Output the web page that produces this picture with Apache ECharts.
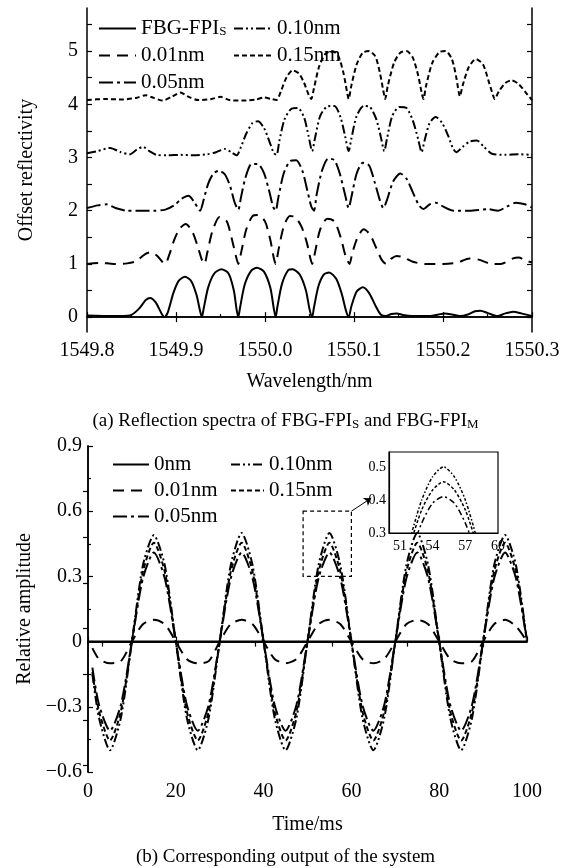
<!DOCTYPE html>
<html>
<head>
<meta charset="utf-8">
<script src="https://cdn.jsdelivr.net/npm/echarts@6/dist/echarts.min.js"></script>
<style>
  html, body { margin: 0; padding: 0; background: #fff; }
  #chart { width: 571px; height: 868px; }
</style>
</head>
<body>
<div id="chart"></div>
<script>
// ---- (a) reflection spectra, each curve already offset by 1 on the y axis ----
const specS = [[1549.800,0.03],[1549.830,0.02],[1549.848,0.03],[1549.858,0.15],[1549.866,0.32],[1549.871,0.36],[1549.877,0.28],[1549.884,0.06],[1549.887,0.0],[1549.891,0.1],[1549.897,0.45],[1549.903,0.68],[1549.910,0.76],[1549.917,0.68],[1549.923,0.42],[1549.927,0.12],[1549.929,0.0],[1549.931,0.15],[1549.936,0.55],[1549.943,0.82],[1549.951,0.9],[1549.959,0.82],[1549.965,0.5],[1549.968,0.15],[1549.970,0.0],[1549.972,0.18],[1549.977,0.6],[1549.984,0.86],[1549.991,0.93],[1549.999,0.85],[1550.006,0.55],[1550.010,0.15],[1550.012,0.0],[1550.014,0.2],[1550.019,0.62],[1550.026,0.88],[1550.031,0.9],[1550.039,0.8],[1550.046,0.5],[1550.050,0.15],[1550.053,0.0],[1550.055,0.18],[1550.060,0.58],[1550.066,0.8],[1550.072,0.84],[1550.080,0.72],[1550.086,0.45],[1550.091,0.12],[1550.094,0.0],[1550.097,0.2],[1550.103,0.48],[1550.110,0.56],[1550.117,0.45],[1550.124,0.22],[1550.130,0.05],[1550.136,0.02],[1550.142,0.06],[1550.148,0.07],[1550.155,0.04],[1550.165,0.02],[1550.185,0.02],[1550.195,0.05],[1550.202,0.07],[1550.210,0.05],[1550.219,0.02],[1550.228,0.05],[1550.236,0.11],[1550.242,0.12],[1550.250,0.08],[1550.261,0.02],[1550.270,0.07],[1550.279,0.1],[1550.288,0.07],[1550.300,0.02]];
const spec001 = [[1549.800,1.0],[1549.815,1.02],[1549.830,1.0],[1549.845,1.01],[1549.855,1.05],[1549.865,1.18],[1549.872,1.22],[1549.879,1.15],[1549.885,1.03],[1549.888,1.0],[1549.892,1.15],[1549.898,1.45],[1549.904,1.66],[1549.911,1.75],[1549.918,1.62],[1549.924,1.35],[1549.929,1.08],[1549.932,1.0],[1549.935,1.2],[1549.941,1.62],[1549.949,1.88],[1549.957,1.8],[1549.963,1.45],[1549.968,1.1],[1549.970,1.0],[1549.973,1.2],[1549.979,1.65],[1549.986,1.9],[1549.992,1.92],[1550.000,1.8],[1550.006,1.45],[1550.010,1.1],[1550.012,1.0],[1550.015,1.25],[1550.021,1.7],[1550.028,1.9],[1550.034,1.88],[1550.041,1.7],[1550.047,1.4],[1550.051,1.1],[1550.053,1.0],[1550.056,1.2],[1550.062,1.65],[1550.070,1.85],[1550.078,1.8],[1550.085,1.5],[1550.091,1.12],[1550.095,1.0],[1550.098,1.2],[1550.104,1.5],[1550.111,1.65],[1550.118,1.55],[1550.125,1.3],[1550.131,1.08],[1550.136,1.0],[1550.142,1.1],[1550.148,1.15],[1550.156,1.12],[1550.166,1.04],[1550.180,1.0],[1550.200,1.0],[1550.215,1.02],[1550.230,1.1],[1550.240,1.08],[1550.255,1.0],[1550.265,1.0],[1550.278,1.1],[1550.285,1.12],[1550.293,1.06],[1550.300,1.03]];
const spec005 = [[1549.800,2.05],[1549.812,2.1],[1549.822,2.12],[1549.832,2.05],[1549.845,2.0],[1549.860,2.0],[1549.875,2.0],[1549.888,2.02],[1549.898,2.1],[1549.906,2.22],[1549.914,2.28],[1549.921,2.15],[1549.927,2.0],[1549.931,2.2],[1549.936,2.5],[1549.942,2.7],[1549.948,2.75],[1549.955,2.68],[1549.961,2.45],[1549.966,2.15],[1549.970,2.02],[1549.973,2.25],[1549.978,2.62],[1549.985,2.88],[1549.992,2.88],[1549.999,2.7],[1550.005,2.35],[1550.009,2.08],[1550.012,2.0],[1550.015,2.25],[1550.021,2.7],[1550.028,2.93],[1550.035,2.95],[1550.042,2.75],[1550.048,2.35],[1550.052,2.08],[1550.055,2.0],[1550.058,2.3],[1550.064,2.75],[1550.071,2.98],[1550.078,2.95],[1550.084,2.7],[1550.090,2.3],[1550.094,2.05],[1550.097,2.25],[1550.103,2.7],[1550.110,2.9],[1550.117,2.85],[1550.123,2.55],[1550.129,2.2],[1550.133,2.05],[1550.137,2.2],[1550.144,2.55],[1550.152,2.7],[1550.159,2.6],[1550.166,2.35],[1550.173,2.1],[1550.178,2.03],[1550.185,2.12],[1550.192,2.15],[1550.200,2.08],[1550.212,2.0],[1550.230,2.0],[1550.250,2.03],[1550.262,2.0],[1550.272,2.08],[1550.282,2.15],[1550.292,2.12],[1550.300,2.06]];
const spec010 = [[1549.800,3.08],[1549.812,3.12],[1549.826,3.18],[1549.838,3.1],[1549.848,3.06],[1549.856,3.15],[1549.863,3.2],[1549.870,3.12],[1549.878,3.05],[1549.890,3.04],[1549.905,3.05],[1549.920,3.04],[1549.935,3.06],[1549.945,3.1],[1549.955,3.16],[1549.962,3.1],[1549.968,3.04],[1549.973,3.2],[1549.979,3.45],[1549.986,3.65],[1549.992,3.68],[1549.999,3.55],[1550.005,3.3],[1550.010,3.08],[1550.013,3.05],[1550.016,3.3],[1550.022,3.72],[1550.030,3.92],[1550.037,3.93],[1550.044,3.75],[1550.049,3.4],[1550.053,3.12],[1550.056,3.35],[1550.062,3.78],[1550.070,3.96],[1550.078,3.97],[1550.085,3.75],[1550.090,3.4],[1550.094,3.12],[1550.097,3.35],[1550.103,3.78],[1550.111,3.97],[1550.118,3.95],[1550.125,3.72],[1550.130,3.4],[1550.134,3.12],[1550.137,3.35],[1550.143,3.78],[1550.151,3.95],[1550.159,3.93],[1550.166,3.7],[1550.172,3.35],[1550.176,3.1],[1550.179,3.3],[1550.185,3.65],[1550.192,3.76],[1550.199,3.65],[1550.206,3.4],[1550.211,3.18],[1550.215,3.1],[1550.222,3.2],[1550.230,3.3],[1550.238,3.32],[1550.246,3.2],[1550.255,3.07],[1550.270,3.05],[1550.285,3.06],[1550.300,3.05]];
const spec015 = [[1549.800,4.08],[1549.820,4.1],[1549.840,4.09],[1549.855,4.12],[1549.866,4.17],[1549.875,4.12],[1549.885,4.07],[1549.896,4.15],[1549.905,4.22],[1549.913,4.15],[1549.925,4.08],[1549.940,4.1],[1549.950,4.14],[1549.960,4.08],[1549.975,4.07],[1549.990,4.09],[1549.999,4.13],[1550.007,4.1],[1550.013,4.08],[1550.018,4.25],[1550.024,4.5],[1550.031,4.64],[1550.038,4.58],[1550.044,4.4],[1550.049,4.18],[1550.052,4.1],[1550.055,4.3],[1550.061,4.72],[1550.068,4.95],[1550.075,5.0],[1550.082,4.92],[1550.088,4.6],[1550.092,4.25],[1550.094,4.1],[1550.097,4.35],[1550.103,4.75],[1550.110,4.97],[1550.117,5.0],[1550.124,4.9],[1550.129,4.6],[1550.133,4.25],[1550.135,4.1],[1550.138,4.35],[1550.145,4.78],[1550.152,4.97],[1550.159,5.0],[1550.166,4.88],[1550.172,4.55],[1550.176,4.22],[1550.178,4.1],[1550.181,4.35],[1550.188,4.78],[1550.196,4.98],[1550.203,5.0],[1550.210,4.85],[1550.215,4.5],[1550.219,4.15],[1550.222,4.35],[1550.229,4.7],[1550.237,4.85],[1550.245,4.75],[1550.251,4.45],[1550.256,4.18],[1550.258,4.1],[1550.263,4.25],[1550.270,4.4],[1550.277,4.45],[1550.285,4.38],[1550.293,4.22],[1550.300,4.08]];

const specNames = ['FBG-FPI_S', '0.01nm', '0.05nm', '0.10nm', '0.15nm'];
const specLabels = [0, 1, 2, 3, 4, 5];
const specYTicks = [0, 0.5, 1, 1.5, 2, 2.5, 3, 3.5, 4, 4.5, 5, 5.5];
const specTopTicks = [1549.9, 1550.0, 1550.1, 1550.2];

// ---- (b) system output ----
const timeB = [1, 2.5, 5, 7.5, 10, 12.5, 15, 17.5, 20, 22.5, 25, 27.5, 30, 32.5, 35, 37.5, 40, 42.5, 45, 47.5, 50, 52.5, 55, 57.5, 60, 62.5, 65, 67.5, 70, 72.5, 75, 77.5, 80, 82.5, 85, 87.5, 90, 92.5, 95, 97.5, 100];
const out001 = [-0.03, -0.08, -0.1, -0.09, 0, 0.08, 0.1, 0.08, 0, -0.08, -0.1, -0.09, 0, 0.08, 0.1, 0.08, 0, -0.08, -0.1, -0.08, 0, 0.08, 0.1, 0.08, 0, -0.08, -0.1, -0.08, 0, 0.08, 0.1, 0.08, 0, -0.08, -0.1, -0.09, 0, 0.08, 0.1, 0.07, 0];
const out005 = [-0.12, -0.29, -0.41, -0.29, 0, 0.29, 0.41, 0.29, 0, -0.29, -0.41, -0.29, 0, 0.29, 0.41, 0.29, 0, -0.29, -0.41, -0.29, 0, 0.29, 0.41, 0.29, 0, -0.29, -0.41, -0.29, 0, 0.29, 0.41, 0.29, 0, -0.29, -0.41, -0.29, 0, 0.29, 0.41, 0.29, 0];
const out010 = [-0.15, -0.35, -0.5, -0.35, 0, 0.35, 0.49, 0.35, 0, -0.35, -0.5, -0.35, 0, 0.35, 0.5, 0.35, 0, -0.35, -0.5, -0.35, 0, 0.35, 0.5, 0.35, 0, -0.35, -0.5, -0.35, 0, 0.35, 0.5, 0.35, 0, -0.35, -0.5, -0.35, 0, 0.35, 0.49, 0.35, 0];
const out015 = [-0.14, -0.32, -0.455, -0.32, 0, 0.32, 0.455, 0.32, 0, -0.32, -0.455, -0.32, 0, 0.32, 0.455, 0.32, 0, -0.32, -0.455, -0.32, 0, 0.32, 0.455, 0.32, 0, -0.32, -0.455, -0.32, 0, 0.32, 0.455, 0.32, 0, -0.32, -0.455, -0.32, 0, 0.32, 0.455, 0.32, 0];
const timeFlat = [0, 100];
const out0 = [0, 0];
const outNames = ['0nm', '0.01nm', '0.05nm', '0.10nm', '0.15nm'];
const outRightTicks = [-0.57, -0.36, -0.15, 0.06, 0.27, 0.48, 0.69];
const outTopTicks = [3.2, 20.5, 38, 55.6, 72.7, 90];
const zoomBoxT = [49, 60];
const zoomBoxV = [0.3, 0.6];
const arrowEnd = [64.5, 0.66];

// ---- (b) inset ----
const insetT = [51, 52, 53, 54, 55, 56, 57, 58, 59];
const inset005 = [0.13, 0.24, 0.33, 0.39, 0.41, 0.39, 0.33, 0.24, 0.13];
const inset010 = [0.16, 0.29, 0.4, 0.47, 0.5, 0.47, 0.4, 0.29, 0.16];
const inset015 = [0.14, 0.27, 0.37, 0.43, 0.455, 0.43, 0.37, 0.27, 0.14];
const insetXLabels = [51, 54, 57, 60];
const insetYLabels = [0.3, 0.4, 0.5];

const FONT = '"Liberation Serif", "Times New Roman", serif';
const dashes = {
  solid: 'solid',
  d001: [11, 7],
  d005: [14, 4, 3, 4],
  d010: [9, 3, 2, 3, 2, 3],
  d015: [5, 3]
};
const styles = [dashes.solid, dashes.d001, dashes.d005, dashes.d010, dashes.d015];

const zip = (xs, ys) => xs.map((x, i) => [x, ys[i]]);
const minus = (v) => (Math.abs(v) < 1e-9 ? '0' : (v < 0 ? '\u2212' : '') + Math.abs(v).toFixed(1));
const subFmt = (n) => n.replace(/^b:/, '').replace(/_(\w)/, '{s|$1}');

const rich = {
  s: { fontFamily: FONT, fontSize: 13, verticalAlign: 'bottom', lineHeight: 20, color: '#000' }
};
const txt = { fontFamily: FONT, fontSize: 20, color: '#000' };
const line = { lineStyle: { color: '#000', width: 1.5 } };
const tickIn = (extra) => Object.assign({ show: true, inside: true, length: 5, lineStyle: { color: '#000', width: 1.2 } }, extra || {});

function lineSeries(name, data, type, xi, yi, width) {
  return {
    name: name,
    type: 'line',
    xAxisIndex: xi,
    yAxisIndex: yi,
    data: data,
    symbol: 'none',
    smooth: 0.25,
    lineStyle: { color: '#000', width: width || 2, type: type },
    itemStyle: { color: '#000' },
    silent: true
  };
}

const chart = echarts.init(document.getElementById('chart'));

// legend: line only, the symbol dot is hidden
const legendBase = {
  orient: 'vertical',
  padding: 0,
  itemHeight: 14,
  itemGap: 6,
  itemStyle: { opacity: 0 },
  textStyle: Object.assign({}, txt, { fontSize: 21, lineHeight: 20, rich: rich }),
  formatter: subFmt,
  selectedMode: false
};

const option = {
  animation: false,
  backgroundColor: '#fff',
  title: [
    {
      text: '(a) Reflection spectra of FBG-FPI{s|S} and FBG-FPI{s|M}',
      left: 'center', top: 406,
      textStyle: Object.assign({}, txt, { fontSize: 19, fontWeight: 'normal', rich: rich })
    },
    {
      text: '(b) Corresponding output of the system',
      left: 'center', top: 843,
      textStyle: Object.assign({}, txt, { fontSize: 19, fontWeight: 'normal' })
    }
  ],
  legend: [
    Object.assign({}, legendBase, { left: 98, top: 18, itemWidth: 37, data: specNames.slice(0, 3) }),
    Object.assign({}, legendBase, { left: 233, top: 18, itemWidth: 38, data: specNames.slice(3) }),
    Object.assign({}, legendBase, { left: 112, top: 454, itemWidth: 36, itemGap: 5, data: outNames.slice(0, 3).map((n) => 'b:' + n) }),
    Object.assign({}, legendBase, { left: 230, top: 454, itemWidth: 33, itemGap: 5, data: outNames.slice(3).map((n) => 'b:' + n) })
  ],
  grid: [
    { left: 87, top: 8, width: 445, height: 324 },
    { left: 88, top: 446, width: 439, height: 326 },
    { left: 389, top: 452, width: 109, height: 81, show: true, borderColor: '#000', borderWidth: 1.2, backgroundColor: 'rgba(255,255,255,0)' }
  ],
  xAxis: [
    {
      gridIndex: 0, type: 'value', min: 1549.8, max: 1550.3, interval: 0.1, position: 'bottom',
      axisLine: line, splitLine: { show: false },
      axisTick: tickIn(), minorTick: { show: true, splitNumber: 2, length: 3, lineStyle: { color: '#000', width: 1.2 } },
      axisLabel: Object.assign({}, txt, { margin: 9, formatter: (v) => v.toFixed(1) }),
      name: 'Wavelength/nm', nameLocation: 'middle', nameGap: 40, nameTextStyle: txt
    },
    {
      gridIndex: 0, type: 'value', min: 1549.8, max: 1550.3, position: 'top',
      axisLine: line, splitLine: { show: false }, axisLabel: { show: false },
      axisTick: tickIn({ customValues: specTopTicks })
    },
    {
      gridIndex: 1, type: 'value', min: 0, max: 100, interval: 20, position: 'bottom',
      axisLine: line, splitLine: { show: false },
      axisTick: tickIn(), minorTick: { show: true, splitNumber: 2, length: 3, lineStyle: { color: '#000', width: 1.2 } },
      axisLabel: Object.assign({}, txt, { margin: 10 }),
      name: 'Time/ms', nameLocation: 'middle', nameGap: 43, nameTextStyle: txt
    },
    {
      gridIndex: 1, type: 'value', min: 0, max: 100, position: 'top',
      axisLine: line, splitLine: { show: false }, axisLabel: { show: false },
      axisTick: tickIn({ customValues: outTopTicks })
    },
    {
      gridIndex: 2, type: 'value', min: 50, max: 60, position: 'bottom',
      axisLine: { lineStyle: { color: '#000', width: 1.2 } }, splitLine: { show: false },
      axisTick: { show: false },
      axisLabel: Object.assign({}, txt, { fontSize: 14, margin: 6, customValues: insetXLabels })
    }
  ],
  yAxis: [
    {
      gridIndex: 0, type: 'value', min: -0.28, max: 5.81, position: 'left',
      axisLine: line, splitLine: { show: false },
      axisTick: tickIn({ customValues: specYTicks }),
      axisLabel: Object.assign({}, txt, { margin: 9, customValues: specLabels }),
      name: 'Offset reflectivity', nameLocation: 'middle', nameGap: 50, nameTextStyle: txt
    },
    {
      gridIndex: 0, type: 'value', min: -0.28, max: 5.81, position: 'right',
      axisLine: line, splitLine: { show: false }, axisLabel: { show: false },
      axisTick: tickIn({ customValues: specYTicks })
    },
    {
      gridIndex: 1, type: 'value', min: -0.6, max: 0.9, interval: 0.3, position: 'left',
      axisLine: line, splitLine: { show: false },
      axisTick: tickIn(), minorTick: { show: true, splitNumber: 2, length: 3, lineStyle: { color: '#000', width: 1.2 } },
      axisLabel: Object.assign({}, txt, { margin: 6, formatter: minus }),
      name: 'Relative amplitude', nameLocation: 'middle', nameGap: 52, nameTextStyle: txt
    },
    {
      gridIndex: 1, type: 'value', min: -0.6, max: 0.9, position: 'right',
      axisLine: line, splitLine: { show: false }, axisLabel: { show: false },
      axisTick: tickIn({ customValues: outRightTicks })
    },
    {
      gridIndex: 2, type: 'value', min: 0.3, max: 0.545, position: 'left',
      axisLine: { lineStyle: { color: '#000', width: 1.2 } }, splitLine: { show: false },
      axisTick: { show: false },
      axisLabel: Object.assign({}, txt, { fontSize: 14, margin: 3, customValues: insetYLabels, formatter: (v) => v.toFixed(1) })
    }
  ],
  series: [
    lineSeries(specNames[0], specS, styles[0], 0, 0),
    lineSeries(specNames[1], spec001, styles[1], 0, 0),
    lineSeries(specNames[2], spec005, styles[2], 0, 0),
    lineSeries(specNames[3], spec010, styles[3], 0, 0),
    lineSeries(specNames[4], spec015, styles[4], 0, 0),

    Object.assign(lineSeries('b:' + outNames[0], zip(timeFlat, out0), styles[0], 2, 2), {
      markArea: {
        silent: true,
        itemStyle: { color: 'rgba(0,0,0,0)', borderColor: '#000', borderWidth: 1.2, borderType: [4, 3] },
        data: [[{ coord: [zoomBoxT[0], zoomBoxV[1]] }, { coord: [zoomBoxT[1], zoomBoxV[0]] }]]
      },
      markLine: {
        silent: true,
        symbol: ['none', 'arrow'],
        symbolSize: 7,
        label: { show: false },
        lineStyle: { color: '#000', width: 1, type: 'solid' },
        data: [[{ coord: [zoomBoxT[1], zoomBoxV[1]] }, { coord: arrowEnd }]]
      }
    }),
    lineSeries('b:' + outNames[1], zip(timeB, out001), styles[1], 2, 2),
    lineSeries('b:' + outNames[2], zip(timeB, out005), styles[2], 2, 2),
    lineSeries('b:' + outNames[3], zip(timeB, out010), styles[3], 2, 2),
    lineSeries('b:' + outNames[4], zip(timeB, out015), styles[4], 2, 2),

    lineSeries('inset 0.05nm', zip(insetT, inset005), [6, 3, 2, 3], 4, 4, 1.5),
    lineSeries('inset 0.10nm', zip(insetT, inset010), [3, 2, 1.5, 2], 4, 4, 1.5),
    lineSeries('inset 0.15nm', zip(insetT, inset015), [3, 2], 4, 4, 1.5)
  ]
};

chart.setOption(option);
</script>
</body>
</html>
